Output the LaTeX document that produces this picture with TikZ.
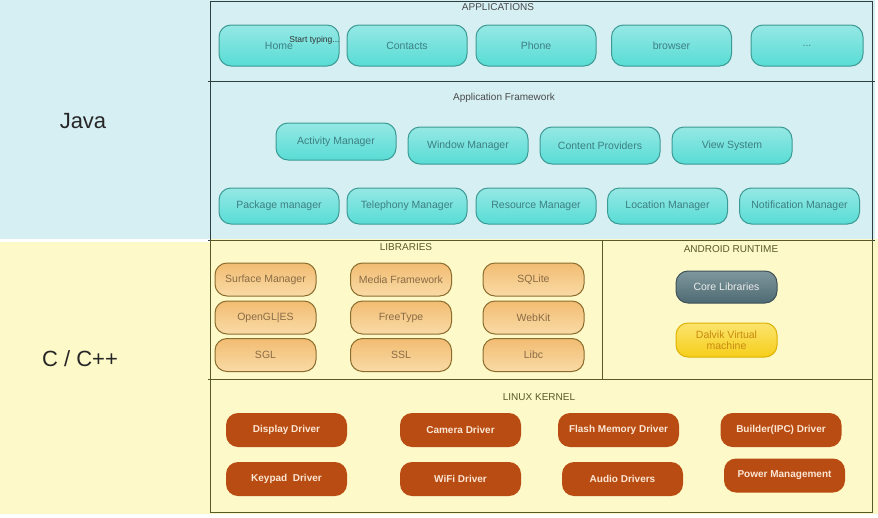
\documentclass[tikz,border=0pt]{standalone}
\usepackage{fontspec}
\setmainfont{Liberation Sans}
\begin{document}
\begin{tikzpicture}[x=1pt,y=-1pt,
  bx/.style={rounded corners=12pt, line width=1pt, inner sep=0pt, align=center,
    font=\fontsize{10.5}{11.5}\selectfont},
  appbox/.style={bx, draw=appborder, top color=apptop, bottom color=appbot, text=apptext,
    minimum width=120pt, minimum height=41pt},
  fwbox/.style={appbox, minimum height=37pt},
  libbox/.style={bx, draw=libborder, top color=libtop, bottom color=libbot, text=libtext,
    minimum width=101pt, minimum height=33pt},
  kbox/.style={bx, fill=kfill, text=ktext, font=\bfseries\fontsize{10}{11}\selectfont,
    minimum width=121pt, minimum height=34pt},
  ttl/.style={font=\fontsize{10}{11}\selectfont, text=titletext, inner sep=0pt},
  bigl/.style={font=\fontsize{22}{24}\selectfont, text=black!85, inner sep=0pt},
  frameb/.style={draw=frameblue, line width=1pt},
  framey/.style={draw=frameyel, line width=1pt}
]
\definecolor{bluebg}{HTML}{D5EFF3}
\definecolor{yelbg}{HTML}{FDF9C9}
\definecolor{frameblue}{HTML}{2F3F3F}
\definecolor{frameyel}{HTML}{5A5A28}
\definecolor{apptop}{HTML}{95E8E4}
\definecolor{appbot}{HTML}{58DCD5}
\definecolor{appborder}{HTML}{3C9A94}
\definecolor{apptext}{HTML}{3D7F83}
\definecolor{libtop}{HTML}{F2BC72}
\definecolor{libbot}{HTML}{F9DBA6}
\definecolor{libborder}{HTML}{8B6D2E}
\definecolor{libtext}{HTML}{8A6B45}
\definecolor{coretop}{HTML}{7E979D}
\definecolor{corebot}{HTML}{4E6A72}
\definecolor{coreborder}{HTML}{3E5258}
\definecolor{dalvtop}{HTML}{FBE46E}
\definecolor{dalvbot}{HTML}{F6CE1A}
\definecolor{dalvborder}{HTML}{E0B000}
\definecolor{dalvtext}{HTML}{C98A10}
\definecolor{kfill}{HTML}{B94C12}
\definecolor{ktext}{HTML}{FBE6D4}
\definecolor{titletext}{HTML}{4A4A4A}

\useasboundingbox (0,0) rectangle (878,517);
% backgrounds
\fill[bluebg] (0,0) rectangle (875,239);
\fill[yelbg] (0,242) rectangle (878,514);
\fill[yelbg] (210,239) rectangle (878,242);

% frames
\draw[frameb] (210,240) -- (210,1) -- (872,1) -- (872,240);
\draw[frameb] (208,81) -- (875,81);
\draw[frameb] (208,240) -- (875,240);
\draw[framey] (210,240) rectangle (602,379);
\draw[framey] (602,240) -- (872,240) -- (872,379);
\draw[framey] (208,379) -- (872,379);
\draw[framey] (210,379) -- (210,512) -- (872,512) -- (872,379);

% side labels
\node[bigl] (java) at (83,121) {Java};
\node[bigl] (cpp) at (80,359) {C / C++};

% applications
\node[ttl] (tapps) at (498,7) {APPLICATIONS};
\node[appbox] (home) at (279,45.5) {Home};
\node[font=\fontsize{8.5}{9}\selectfont, text=black!80, inner sep=0pt] (typing) at (314.5,40) {Start typing...};
\node[appbox] (contacts) at (407,45.5) {Contacts};
\node[appbox] (phone) at (536,45.5) {Phone};
\node[appbox] (browser) at (671.5,45.5) {browser};
\node[appbox, minimum width=112pt] (more) at (807,45.5) {...};

% framework
\node[ttl] (tfw) at (504,98) {Application Framework};
\node[fwbox] (activity) at (336,141.5) {Activity Manager};
\node[fwbox] (window) at (468,145.5) {Window Manager};
\node[fwbox] (content) at (600,145.5) {Content Providers};
\node[fwbox] (view) at (732,145.5) {View System};
\node[fwbox, minimum height=36pt] (package) at (279,206) {Package manager};
\node[fwbox, minimum height=36pt] (telephony) at (407,206) {Telephony Manager};
\node[fwbox, minimum height=36pt] (resource) at (536,206) {Resource Manager};
\node[fwbox, minimum height=36pt] (location) at (667.5,206) {Location Manager};
\node[fwbox, minimum height=36pt] (notification) at (799.5,206) {Notification Manager};

% libraries
\node[ttl, text=frameyel] (tlib) at (406,247) {LIBRARIES};
\node[libbox] (surface) at (265.5,279.5) {Surface Manager};
\node[libbox] (media) at (401,279.5) {Media Framework};
\node[libbox] (sqlite) at (533.5,279.5) {SQLite};
\node[libbox] (opengl) at (265.5,317.5) {OpenGL|ES};
\node[libbox] (freetype) at (401,317.5) {FreeType};
\node[libbox] (webkit) at (533.5,317.5) {WebKit};
\node[libbox] (sgl) at (265.5,355) {SGL};
\node[libbox] (ssl) at (401,355) {SSL};
\node[libbox] (libc) at (533.5,355) {Libc};

% runtime
\node[ttl, text=frameyel] (trt) at (731,249) {ANDROID RUNTIME};
\node[bx, draw=coreborder, top color=coretop, bottom color=corebot, text=white!92!black,
  minimum width=101pt, minimum height=32pt] (core) at (726.5,287) {Core Libraries};
\node[bx, draw=dalvborder, top color=dalvtop, bottom color=dalvbot, text=dalvtext,
  minimum width=101pt, minimum height=34pt] (dalvik) at (726.5,340) {Dalvik Virtual\\machine};

% kernel
\node[ttl, text=frameyel] (tkern) at (539,397) {LINUX KERNEL};
\node[kbox] (display) at (286.5,430) {Display Driver};
\node[kbox] (camera) at (460.5,430) {Camera Driver};
\node[kbox] (flash) at (618.5,430) {Flash Memory Driver};
\node[kbox] (builder) at (781,430) {Builder(IPC) Driver};
\node[kbox] (keypad) at (286.5,479) {Keypad\ \ Driver};
\node[kbox] (wifi) at (460.5,479) {WiFi Driver};
\node[kbox] (audio) at (622.5,479) {Audio Drivers};
\node[kbox] (power) at (784.5,475.5) {Power Management};
\end{tikzpicture}
\end{document}
